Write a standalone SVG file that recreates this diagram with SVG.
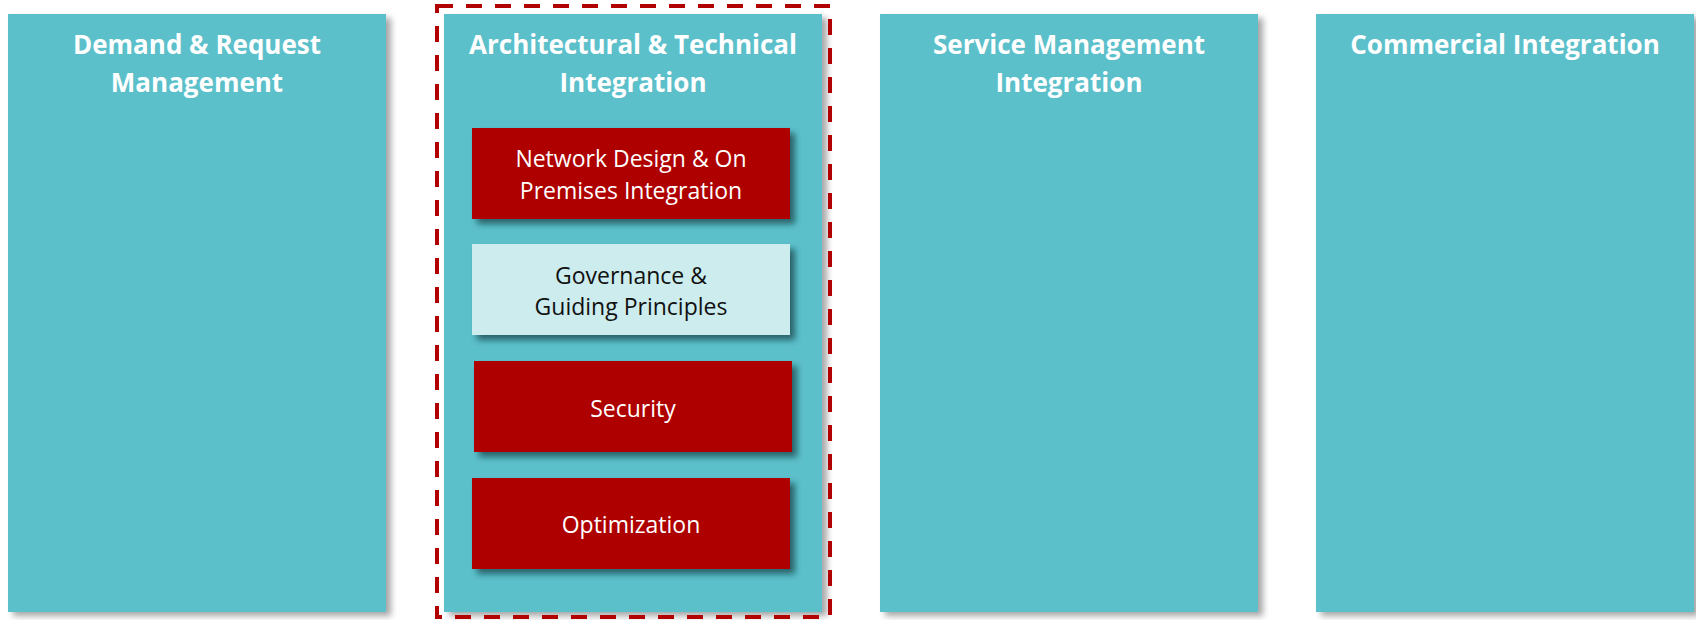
<svg xmlns="http://www.w3.org/2000/svg" width="1696" height="620" viewBox="0 0 1696 620">
<defs>
<filter id="colShadow" x="-10%" y="-10%" width="125%" height="125%">
<feDropShadow dx="5" dy="4" stdDeviation="3" flood-color="#000" flood-opacity="0.35"/>
</filter>
<filter id="boxShadow" x="-10%" y="-20%" width="125%" height="150%">
<feDropShadow dx="5" dy="5" stdDeviation="3" flood-color="#0c3a40" flood-opacity="0.7"/>
</filter>
</defs>
<style>
.col { fill: #5CC0CB; filter: url(#colShadow); }
.title { font-family: "Open Sans", "Noto Sans", sans-serif; font-weight: 700; font-size: 26px; fill: #ffffff; text-anchor: middle; }
.red { fill: #AF0000; filter: url(#boxShadow); }
.light { fill: #CCECEE; filter: url(#boxShadow); }
.lbl { font-family: "Open Sans", "Noto Sans", sans-serif; font-size: 23px; text-anchor: middle; }
.w { fill: #ffffff; }
.k { fill: #111111; }
.dash { fill: none; stroke: #B00000; stroke-width: 4; stroke-dasharray: 16 13; }
</style>
<g id="col-demand">
<rect class="col" x="8" y="14" width="378" height="598"/>
<text class="title" x="197" y="54">Demand &amp; Request</text>
<text class="title" x="197" y="92">Management</text>
</g>
<g id="col-architectural">
<rect class="col" x="444" y="14" width="378" height="598"/>
<text class="title" x="633" y="54">Architectural &amp; Technical</text>
<text class="title" x="633" y="92">Integration</text>
</g>
<g id="highlight">
<rect class="dash" x="437" y="6" width="393" height="611"/>
</g>
<g id="box-network">
<rect class="red" x="472" y="128" width="318" height="91"/>
<text class="lbl w" x="631" y="167">Network Design &amp; On</text>
<text class="lbl w" x="631" y="199">Premises Integration</text>
</g>
<g id="box-governance">
<rect class="light" x="472" y="244" width="318" height="91"/>
<text class="lbl k" x="631" y="284">Governance &amp;</text>
<text class="lbl k" x="631" y="315">Guiding Principles</text>
</g>
<g id="box-security">
<rect class="red" x="474" y="361" width="318" height="91"/>
<text class="lbl w" x="633" y="417">Security</text>
</g>
<g id="box-optimization">
<rect class="red" x="472" y="478" width="318" height="91"/>
<text class="lbl w" x="631" y="533">Optimization</text>
</g>
<g id="col-service">
<rect class="col" x="880" y="14" width="378" height="598"/>
<text class="title" x="1069" y="54">Service Management</text>
<text class="title" x="1069" y="92">Integration</text>
</g>
<g id="col-commercial">
<rect class="col" x="1316" y="14" width="378" height="598"/>
<text class="title" x="1505" y="54">Commercial Integration</text>
</g>
<g id="connectors"></g>
</svg>
